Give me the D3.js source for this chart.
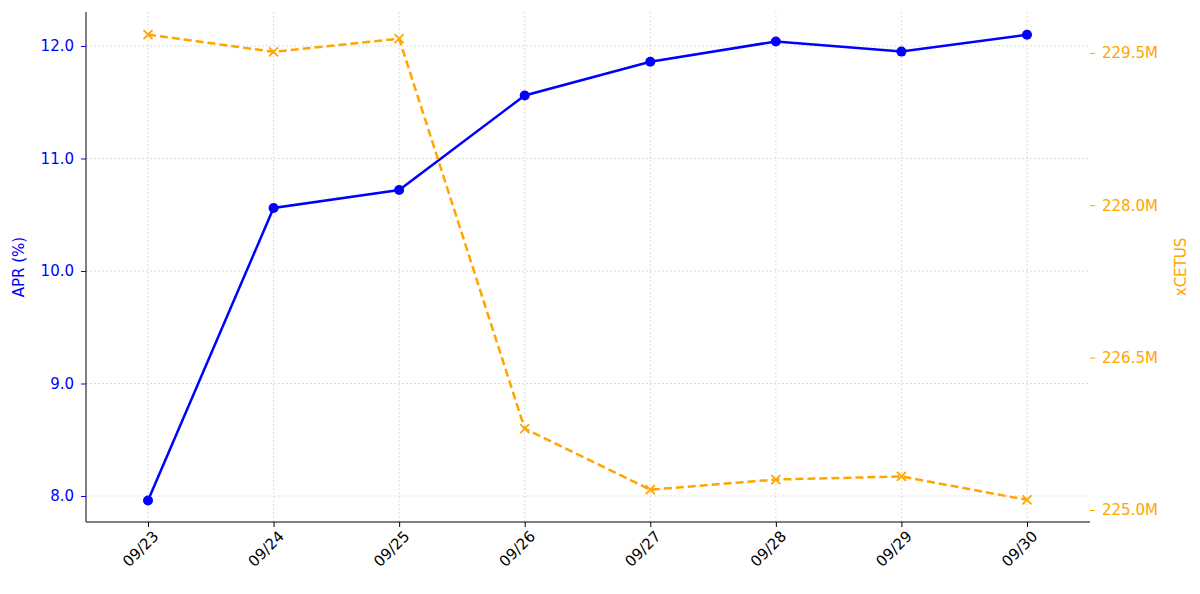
<!DOCTYPE html><html><head><meta charset="utf-8"><script src="https://cdn.jsdelivr.net/npm/d3@7"></script>
<style>body{margin:0;background:#fff}text{font-family:"DejaVu Sans",sans-serif}</style></head><body><svg id="c" width="1200" height="594"></svg>
<script>
const dates=["09/23","09/24","09/25","09/26","09/27","09/28","09/29","09/30"];
const apr=[7.96,10.56,10.72,11.56,11.86,12.04,11.95,12.10];
const xcetus=[229.68,229.51,229.64,225.80,225.20,225.30,225.33,225.10];
const aprTicks=[8,9,10,11,12];
const xcTicks=[225,226.5,228,229.5];
const svg=d3.select("#c");
const L=86,R=1090,T=12,B=522;
const x=d3.scalePoint().domain(dates).range([148,1027]);
const y=d3.scaleLinear().domain([7.769,12.302]).range([B,T]);
const y2=d3.scaleLinear().domain([224.882,229.902]).range([B,T]);
const g=svg.append("g");
dates.forEach(d=>g.append("line").attr("x1",x(d)).attr("x2",x(d)).attr("y1",T).attr("y2",B).attr("stroke","#ddd").attr("stroke-dasharray","2,2"));
aprTicks.forEach(t=>g.append("line").attr("x1",L).attr("x2",R).attr("y1",y(t)).attr("y2",y(t)).attr("stroke","#ddd").attr("stroke-dasharray","2,2"));
const ax=svg.append("g").attr("transform",`translate(0,${B})`).call(d3.axisBottom(x).tickSizeOuter(0).tickSize(5));
ax.select(".domain").attr("d",`M${L},0H${R}`);
ax.selectAll("text").style("font-size","15px").attr("fill","#000").attr("text-anchor","end").attr("transform","rotate(-45)").attr("dx","-0.2em").attr("dy","0.7em");
const ay=svg.append("g").attr("transform",`translate(${L},0)`).call(d3.axisLeft(y).tickValues(aprTicks).tickFormat(d3.format(".1f")).tickSize(5).tickSizeOuter(0));
ay.select(".domain").attr("d",`M0,${T}V${B}`);
ay.selectAll("text").style("font-size","15px").attr("fill","blue").attr("x",-12);
ay.selectAll(".tick line").attr("stroke","blue");
const ay2=svg.append("g").attr("transform",`translate(${R},0)`).call(d3.axisRight(y2).tickValues(xcTicks).tickFormat(d=>d.toFixed(1)+"M").tickSize(5));
ay2.select(".domain").remove();
ay2.selectAll("text").style("font-size","15px").attr("fill","orange").attr("x",12);
ay2.selectAll(".tick line").attr("stroke","orange");
svg.append("text").attr("transform","translate(24,267) rotate(-90)").attr("text-anchor","middle").style("font-size","15px").attr("fill","blue").text("APR (%)");
svg.append("text").attr("transform","translate(1186,267) rotate(-90)").attr("text-anchor","middle").style("font-size","15px").attr("fill","orange").text("xCETUS");
svg.append("path").attr("d",d3.line().x((d,i)=>x(dates[i])).y(d=>y(d))(apr)).attr("fill","none").attr("stroke","blue").attr("stroke-width",2.5);
svg.selectAll(".pt").data(apr).enter().append("circle").attr("cx",(d,i)=>x(dates[i])).attr("cy",d=>y(d)).attr("r",5).attr("fill","blue");
svg.append("path").attr("d",d3.line().x((d,i)=>x(dates[i])).y(d=>y2(d))(xcetus)).attr("fill","none").attr("stroke","orange").attr("stroke-width",2.5).attr("stroke-dasharray","8,4");
xcetus.forEach((d,i)=>{const cx=x(dates[i]),cy=y2(d),s=4.5;svg.append("path").attr("d",`M${cx-s},${cy-s}L${cx+s},${cy+s}M${cx-s},${cy+s}L${cx+s},${cy-s}`).attr("stroke","orange").attr("stroke-width",1.8);});
</script></body></html>
